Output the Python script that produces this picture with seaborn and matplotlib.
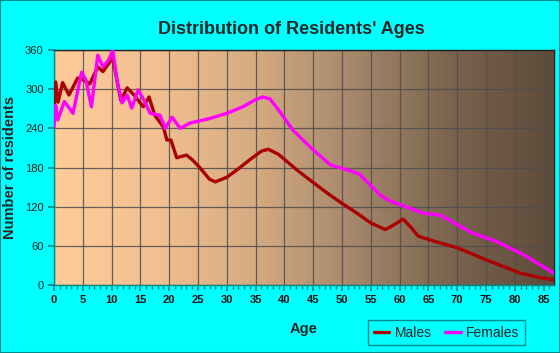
import matplotlib
matplotlib.use("Agg")
import matplotlib.pyplot as plt
import matplotlib.ticker as mtick
from matplotlib.colors import LinearSegmentedColormap
import numpy as np
import pandas as pd
import seaborn as sns

# Values
male_ages = [0, 0.3, 0.7, 1.5, 2.6, 4.1, 5, 6.2, 7.6, 8.5, 10.2, 11, 11.6, 12.7, 14,
             15.5, 16.5, 17.5, 19, 19.6, 20.3, 21.3, 23, 24, 25.3, 27, 28, 30, 32, 34,
             36, 37.2, 39, 41, 42.2, 45, 47.4, 50, 52.6, 55, 57.5, 59, 60.6, 62, 63.2,
             66, 70, 75.2, 81, 84, 86.8]
male_counts = [265, 311, 280, 310, 291, 317, 315, 308, 334, 327, 348, 310, 283, 302, 290,
               273, 288, 260, 242, 222, 222, 195, 199, 192, 180, 162, 158, 165, 178, 192,
               205, 208, 200, 185, 176, 157, 141, 125, 110, 95, 85, 92, 101, 88, 75,
               67, 57, 38, 18, 12, 8]

female_ages = [0, 0.3, 0.65, 1.8, 3.3, 4.8, 5.5, 6.5, 7.6, 8.5, 9.5, 10.2, 11, 11.8, 12.7,
               13.5, 14.6, 15.5, 16.7, 18.4, 19.3, 20.5, 21.9, 23.6, 27, 30, 32.8, 35, 36.3,
               37.5, 39, 41.5, 45, 48, 51.4, 53, 56.6, 58, 60.1, 64.1, 67.1, 72.3, 77,
               81.6, 84, 86.8]
female_counts = [242, 275, 253, 281, 263, 326, 315, 273, 352, 334, 345, 360, 310, 279, 291,
                 271, 299, 285, 263, 260, 240, 257, 240, 248, 255, 263, 273, 284, 288,
                 285, 268, 237, 207, 184, 175, 170, 138, 130, 123, 110, 107, 81, 66,
                 46, 33, 18]

x_ticks = list(range(0, 90, 5))
y_ticks = [0, 60, 120, 180, 240, 300, 360]

CYAN = "#00FFFF"
TEAL = "#008B8B"

df = pd.concat([
    pd.DataFrame({"Age": male_ages, "Residents": male_counts, "Sex": "Males"}),
    pd.DataFrame({"Age": female_ages, "Residents": female_counts, "Sex": "Females"}),
])

sns.set_theme(style="white")
plt.rcParams["font.family"] = ["Liberation Sans", "DejaVu Sans"]

fig = plt.figure(figsize=(5.6, 3.53), dpi=100, facecolor=CYAN)
ax = fig.add_axes([54 / 560, 1 - 285 / 353, 500 / 560, 235 / 353])
ax.set_facecolor(CYAN)

# Gradient background of the plot area
bg = LinearSegmentedColormap.from_list(
    "bg", ["#FFCC99", "#F2C091", "#D6AB82", "#A5876A", "#7A634E", "#5E4B3A"])
ax.imshow(np.linspace(0, 1, 256).reshape(1, -1), cmap=bg, aspect="auto",
          extent=[0, 1, 0, 1], transform=ax.transAxes, zorder=0)

sns.lineplot(data=df, x="Age", y="Residents", hue="Sex", sort=False,
             palette={"Males": "#AA0000", "Females": "#FF00FF"},
             linewidth=2.4, ax=ax, zorder=3)

ax.set_xlim(0, 86.8)
ax.set_ylim(0, 360)
ax.set_xticks(x_ticks)
ax.set_yticks(y_ticks)
ax.xaxis.set_minor_locator(mtick.MultipleLocator(1))
ax.grid(True, which="major", color="#4d4d4d", linewidth=0.9, alpha=0.85, zorder=1)
for line in ax.get_xgridlines() + ax.get_ygridlines():
    line.set_zorder(1)

ax.tick_params(axis="both", which="major", direction="out", length=4, color=TEAL,
               labelsize=8, labelcolor="#002222", bottom=True, left=True)
ax.tick_params(axis="x", which="minor", direction="out", length=3, color=TEAL, bottom=True)
for lbl in ax.get_xticklabels():
    lbl.set_fontweight("bold")
    lbl.set_color("#111111")

ax.spines["left"].set_color(TEAL)
ax.spines["bottom"].set_color(TEAL)
ax.spines["top"].set_color("#222222")
ax.spines["right"].set_color("#222222")
for s in ax.spines.values():
    s.set_linewidth(1.0)

ax.set_xlabel("Age", fontsize=10.5, fontweight="bold", labelpad=12)
ax.set_ylabel("Number of residents", fontsize=10.5, fontweight="bold", labelpad=6)
fig.suptitle("Distribution of Residents' Ages", fontsize=13, fontweight="bold",
             y=0.94, x=0.52)

ax.legend(title=None, loc="upper left", bbox_to_anchor=(368 / 560, 1 - 320 / 353),
          bbox_transform=fig.transFigure, ncol=2, frameon=True, facecolor=CYAN,
          edgecolor=TEAL, fancybox=False, fontsize=10, handlelength=1.1,
          handletextpad=0.4, columnspacing=1.0, borderpad=0.4, borderaxespad=0,
          framealpha=1)

fig.patches.append(plt.Rectangle((0, 0), 1, 1, transform=fig.transFigure, fill=False,
                                 edgecolor=TEAL, linewidth=1.5))

fig.savefig("out.png", dpi=100, facecolor=CYAN)
